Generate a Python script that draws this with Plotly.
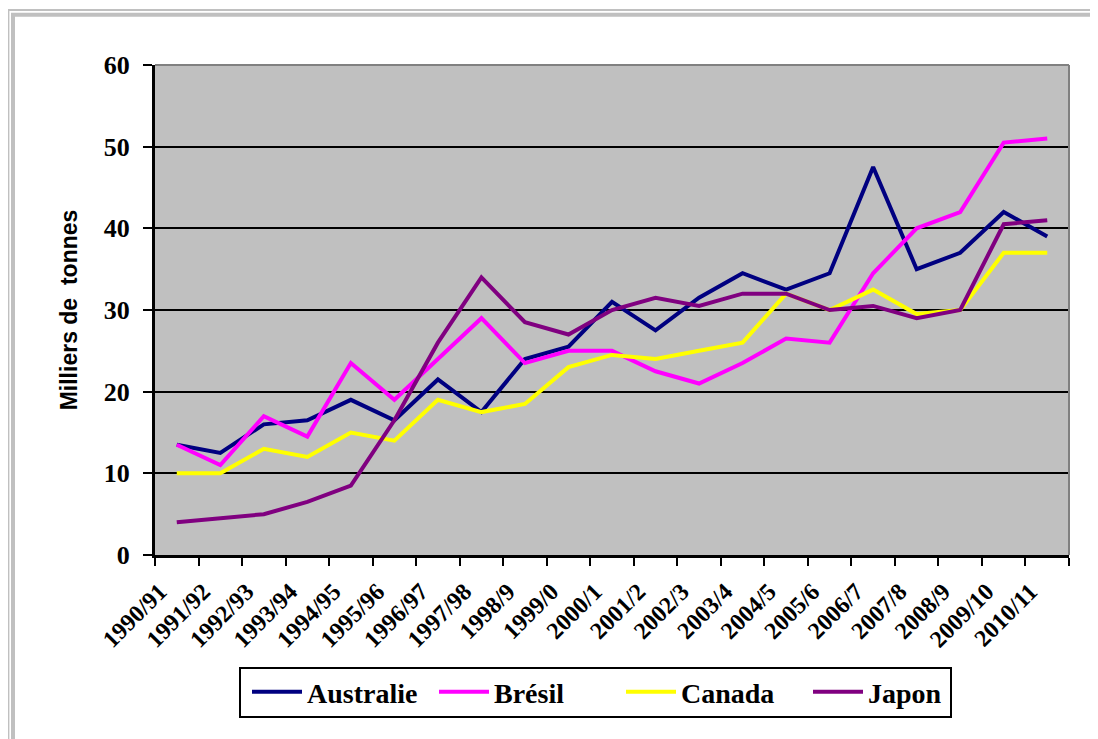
import plotly.graph_objects as go

categories = ["1990/91", "1991/92", "1992/93", "1993/94", "1994/95", "1995/96",
              "1996/97", "1997/98", "1998/9", "1999/0", "2000/1", "2001/2",
              "2002/3", "2003/4", "2004/5", "2005/6", "2006/7", "2007/8",
              "2008/9", "2009/10", "2010/11"]
australie = [13.5, 12.5, 16, 16.5, 19, 16.5, 21.5, 17.5, 24, 25.5, 31, 27.5,
             31.5, 34.5, 32.5, 34.5, 47.5, 35, 37, 42, 39]
bresil = [13.5, 11, 17, 14.5, 23.5, 19, 24, 29, 23.5, 25, 25, 22.5,
          21, 23.5, 26.5, 26, 34.5, 40, 42, 50.5, 51]
canada = [10, 10, 13, 12, 15, 14, 19, 17.5, 18.5, 23, 24.5, 24,
          25, 26, 32, 30, 32.5, 29.5, 30, 37, 37]
japon = [4, 4.5, 5, 6.5, 8.5, 16.5, 26, 34, 28.5, 27, 30, 31.5,
         30.5, 32, 32, 30, 30.5, 29, 30, 40.5, 41]

series = [("Australie", australie, "#000080"),
          ("Brésil", bresil, "#FF00FF"),
          ("Canada", canada, "#FFFF00"),
          ("Japon", japon, "#800080")]

W, H = 1098, 739
OFF = 8  # page body margin
L, R, T, B = 155 - OFF, 37, 65 - OFF, 192
pw, ph = W - L - R, H - T - B


def px(x):  # page x -> paper
    return (x - OFF - L) / pw


def py(y):  # page y -> paper
    return (H - B - (y - OFF)) / ph


fig = go.Figure()
for name, vals, col in series:
    fig.add_trace(go.Scatter(x=categories, y=vals, name=name, mode="lines",
                             line=dict(color=col, width=4)))

serif = "Liberation Serif"
sans = "Liberation Sans"

fig.update_layout(
    width=W, height=H,
    margin=dict(l=L, r=R, t=T, b=B),
    paper_bgcolor="white",
    plot_bgcolor="#C0C0C0",
    font=dict(family=serif, color="black", weight="bold"),
    showlegend=True,
    legend=dict(orientation="h", x=px(247), xanchor="left",
                y=py(667), yanchor="top",
                bgcolor="rgba(0,0,0,0)", borderwidth=0,
                font=dict(family=serif, size=28, color="black", weight="bold"),
                entrywidth=122, itemwidth=50),
    xaxis=dict(type="category", range=[-0.5, 20.5], tickson="boundaries",
               ticks="outside", ticklen=8, tickwidth=2, tickcolor="black",
               showline=True, linecolor="black", linewidth=3,
               showgrid=False, tickangle=-45, ticklabelstandoff=10,
               ticklabelshift=-17,
               tickfont=dict(family=serif, size=24, color="black", weight="bold")),
    yaxis=dict(range=[0, 60], dtick=10, tick0=0,
               ticks="outside", ticklen=9, tickwidth=2, tickcolor="black",
               showline=True, linecolor="black", linewidth=3,
               showgrid=True, gridcolor="black", gridwidth=2, zeroline=False,
               ticklabelstandoff=8,
               tickfont=dict(family=serif, size=26, color="black", weight="bold"),
               title=dict(text="Milliers de  tonnes", standoff=20,
                          font=dict(family=sans, size=23, color="black",
                                    weight="bold"))),
    shapes=[
        dict(type="line", xref="paper", yref="paper", x0=0, x1=1, y0=1, y1=1,
             line=dict(color="#808080", width=2), layer="above"),
        dict(type="line", xref="paper", yref="paper", x0=1, x1=1, y0=0, y1=1,
             line=dict(color="#808080", width=2), layer="above"),
        dict(type="rect", xref="paper", yref="paper",
             x0=px(8.4), x1=1.3, y0=-0.6, y1=py(10),
             line=dict(color="#C0C0C0", width=2), layer="below"),
        dict(type="rect", xref="paper", yref="paper",
             x0=px(13), x1=1.3, y0=-0.6, y1=py(14.7),
             line=dict(color="#C0C0C0", width=4), layer="below"),
        # legend frame
        dict(type="rect", xref="paper", yref="paper",
             x0=px(240), x1=px(951), y0=py(717), y1=py(668),
             line=dict(color="black", width=2), layer="above"),
    ],
)

fig.write_html("out.html")
